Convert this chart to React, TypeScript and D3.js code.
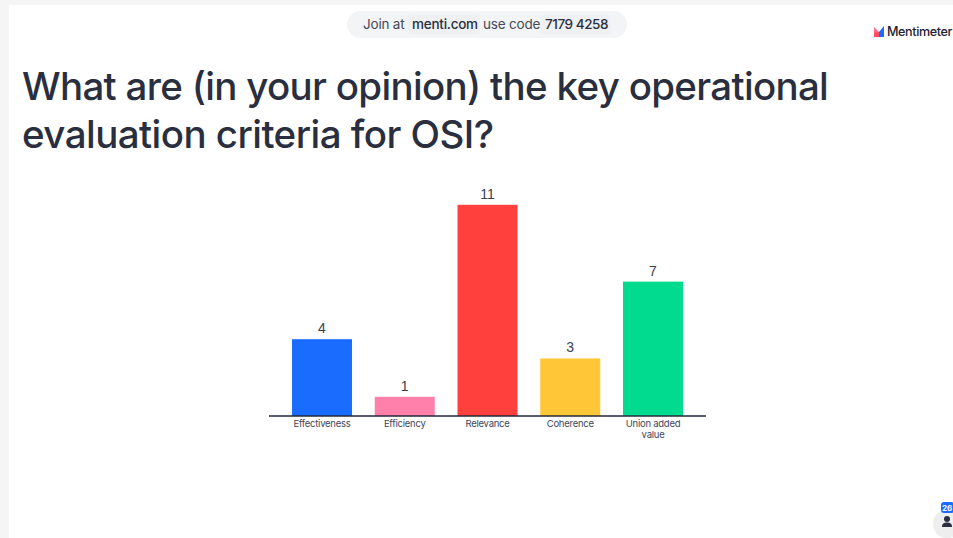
import React, { useEffect } from "react";
import * as d3 from "d3";

const categories = ["Effectiveness", "Efficiency", "Relevance", "Coherence", "Union added value"];
const values = [4, 1, 11, 3, 7];
const barColors = ["#196cff", "#ff80ab", "#ff403d", "#ffc738", "#00db8f"];
const titleLines = ["What are (in your opinion) the key operational", "evaluation criteria for OSI?"];

const W = 953;
const H = 538;
const baseY = 416;
const ink = "#2a2f40";
const font = "Inter, 'Noto Sans', sans-serif";

export default function App() {
  useEffect(() => {
    document.body.style.margin = "0";
  }, []);
  const x = d3.scaleBand<string>().domain(categories).range([280.6, 694.4]).paddingInner(0.275).paddingOuter(0.1375);
  const y = d3.scaleLinear().domain([0, 11]).range([baseY, 204.8]);
  return (
    <svg width={W} height={H} style={{ position: "absolute", left: 0, top: 0, fontFamily: font }}>
      <rect width={W} height={H} fill="#f5f5f5" />
      <rect x={9} y={5} width={W - 9} height={H - 5} fill="#ffffff" />

      <rect x={347} y={11} width={280} height={27} rx={13.5} fill="#f3f4f5" />
      <rect x={408} y={15} width={72} height={19} rx={4} fill="#eef0f2" />
      <rect x={541} y={15} width={70} height={19} rx={4} fill="#eef0f2" />
      <text x={363} y={28.5} fontSize={13.5} fill="#45495a" letterSpacing={-0.2}>Join at</text>
      <text x={412} y={28.5} fontSize={13.5} fontWeight={500} fill={ink} letterSpacing={-0.25}>menti.com</text>
      <text x={483} y={28.5} fontSize={13.5} fill="#45495a" letterSpacing={-0.2}>use code</text>
      <text x={545} y={28.5} fontSize={13.5} fontWeight={500} fill={ink} letterSpacing={-0.45}>7179 4258</text>

      <path d="M874 37V27l5 5z" fill="#ff6b8a" />
      <path d="M874 37v-4l5-1v5z" fill="#ff4a5a" />
      <path d="M879 37v-5l5-6v11z" fill="#196cff" />
      <text x={887} y={36} fontSize={12.6} fontWeight={500} fill="#1d2130" letterSpacing={-0.4}>Mentimeter</text>

      <text x={22} y={100} fontSize={38.5} fontWeight={500} fill={ink} letterSpacing={-0.69}>{titleLines[0]}</text>
      <text x={22} y={148} fontSize={38.5} fontWeight={500} fill={ink} letterSpacing={-0.55}>{titleLines[1]}</text>

      {categories.map((c, i) => {
        const bx = x(c) as number;
        const cx = bx + x.bandwidth() / 2;
        const words = c === "Union added value" ? ["Union added", "value"] : [c];
        return (
          <g key={c}>
            <rect x={bx} y={y(values[i])} width={x.bandwidth()} height={baseY - y(values[i])} fill={barColors[i]} />
            <text x={cx} y={y(values[i]) - 6} textAnchor="middle" fontSize={14} fill="#3a3f4e" fontFamily="'Liberation Sans', Arial, sans-serif">{values[i]}</text>
            {words.map((w, k) => (
              <text key={w} x={cx} y={427 + k * 11} textAnchor="middle" fontSize={9.5} fill="#41465a" letterSpacing={-0.25}>{w}</text>
            ))}
          </g>
        );
      })}
      <line x1={269} x2={706} y1={416} y2={416} stroke="#23283a" strokeWidth={1.5} />

      <circle cx={947} cy={524} r={14} fill="#eeeeee" />
      <circle cx={947} cy={519} r={3} fill="#2a2f40" />
      <path d="M942 527c0-3.500 2-4.500 5-4.500s5 1 5 4.500z" fill="#2a2f40" />
      <rect x={941} y={502} width={13} height={11} rx={3} fill="#196cff" />
      <text x={947} y={511} textAnchor="middle" fontSize={8} fontWeight={700} fill="#ffffff">26</text>
    </svg>
  );
}
